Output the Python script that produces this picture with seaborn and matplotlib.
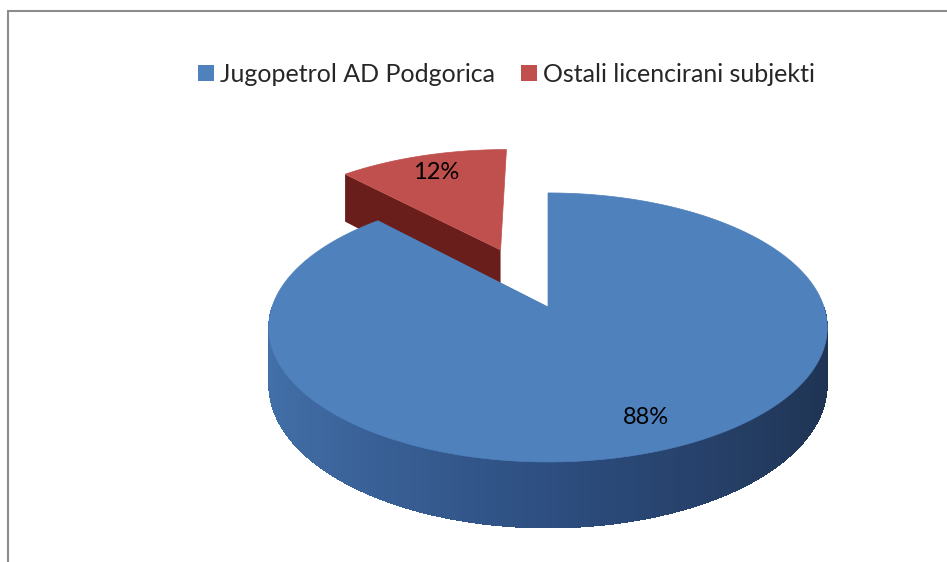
import numpy as np
import matplotlib
matplotlib.use("Agg")
import matplotlib.pyplot as plt
import seaborn as sns
from matplotlib.patches import Polygon, Patch, Rectangle

# data
categories = ["Jugopetrol AD Podgorica", "Ostali licencirani subjekti"]
shares = [88, 12]
labels = ["88%", "12%"]
explode = [0.0, 0.5]

sns.set_theme(style="white")
plt.rcParams["font.family"] = ["Lato", "DejaVu Sans"]

top_colors = sns.color_palette(["#4F81BD", "#C0504D"])
red_side = "#6A1E1C"

# 3d look: perspective projection of the unit disk onto pixel coords
CX, CY = 548, 307
A, B, K = 276, 131.4, 0.152
DEPTH = 56


def project(x, y, drop=0.0):
    w = 1 + K * y
    return CX + A * x / w, CY - B * y / w + drop * DEPTH / w


def blue_side(t):
    s = (np.cos(t) + 1) / 2
    light = np.array([0x43, 0x70, 0xa9]) / 255
    mid = np.array([0x2d, 0x4e, 0x80]) / 255
    dark = np.array([0x1f, 0x33, 0x52]) / 255
    if s < 0.5:
        return light + (mid - light) * s * 2
    return mid + (dark - mid) * (s - 0.5) * 2


fig = plt.figure(figsize=(9.47, 5.62), dpi=100)
ax = fig.add_axes([0, 0, 1, 1])
ax.set_xlim(0, 947)
ax.set_ylim(562, 0)
ax.axis("off")

frac = np.cumsum([0] + shares) / sum(shares)
slices = []
for i in range(len(shares)):
    t0 = np.radians(90 - frac[i] * 360)
    t1 = np.radians(90 - frac[i + 1] * 360)
    mid = (t0 + t1) / 2
    ox, oy = explode[i] * np.cos(mid), explode[i] * np.sin(mid)
    t = np.linspace(t0, t1, max(int(abs(t1 - t0) * 60), 8))
    slices.append((i, t, mid, ox, oy))

# far (exploded) slice first, big one on top of it
for i, t, mid, ox, oy in slices[::-1]:
    xs = np.concatenate([[0], np.cos(t), [0]]) + ox
    ys = np.concatenate([[0], np.sin(t), [0]]) + oy
    # radial face that looks towards the viewer (left cut of the slices)
    for edge in (t[0], t[-1]):
        if np.cos(edge) > -0.3:
            continue
        ex = np.array([0, np.cos(edge)]) + ox
        ey = np.array([0, np.sin(edge)]) + oy
        px, py = project(ex, ey)
        qx, qy = project(ex, ey, 1)
        col = red_side if i == 1 else blue_side(np.pi)
        ax.add_patch(Polygon(np.c_[np.r_[px, qx[::-1]], np.r_[py, qy[::-1]]],
                             closed=True, fc=col, ec="none", lw=0))
    # outer wall, only the near half is visible
    step = t[1] - t[0]
    for a in t[:-1]:
        b = a + step * 1.6
        if np.sin(a + step / 2) >= 0:
            continue
        ex = np.array([np.cos(a), np.cos(b)]) + ox
        ey = np.array([np.sin(a), np.sin(b)]) + oy
        px, py = project(ex, ey)
        qx, qy = project(ex, ey, 1)
        col = red_side if i == 1 else blue_side(a + step / 2)
        ax.add_patch(Polygon(np.c_[np.r_[px, qx[::-1]], np.r_[py, qy[::-1]]],
                             closed=True, fc=col, ec="none", lw=0,
                             antialiased=False))
    # top surface
    px, py = project(xs, ys)
    ax.add_patch(Polygon(np.c_[px, py], closed=True, fc=top_colors[i],
                         ec=top_colors[i], lw=0.5))
    # percentage label
    lx, ly = project(0.8 * np.cos(mid) + ox, 0.8 * np.sin(mid) + oy)
    ax.text(lx + (6 if i == 0 else 0), ly, labels[i], ha="center",
            va="center", fontsize=17, color="black")

handles = [Patch(facecolor=top_colors[i], edgecolor="none") for i in range(2)]
fig.legend(handles, categories, loc="center", bbox_to_anchor=(0.535, 0.868),
           ncol=2, frameon=False, fontsize=18, handlelength=0.64,
           handleheight=0.64, handletextpad=0.24, columnspacing=1.04,
           borderpad=0, borderaxespad=0)

# chart area border (only top and left edges are inside the crop)
fig.patches.append(Rectangle((8 / 947, -0.1), 2, 1.1 - 11 / 562,
                             transform=fig.transFigure, fill=False,
                             ec="#8c8c8c", lw=1.5))

fig.savefig("out.png", dpi=100)
